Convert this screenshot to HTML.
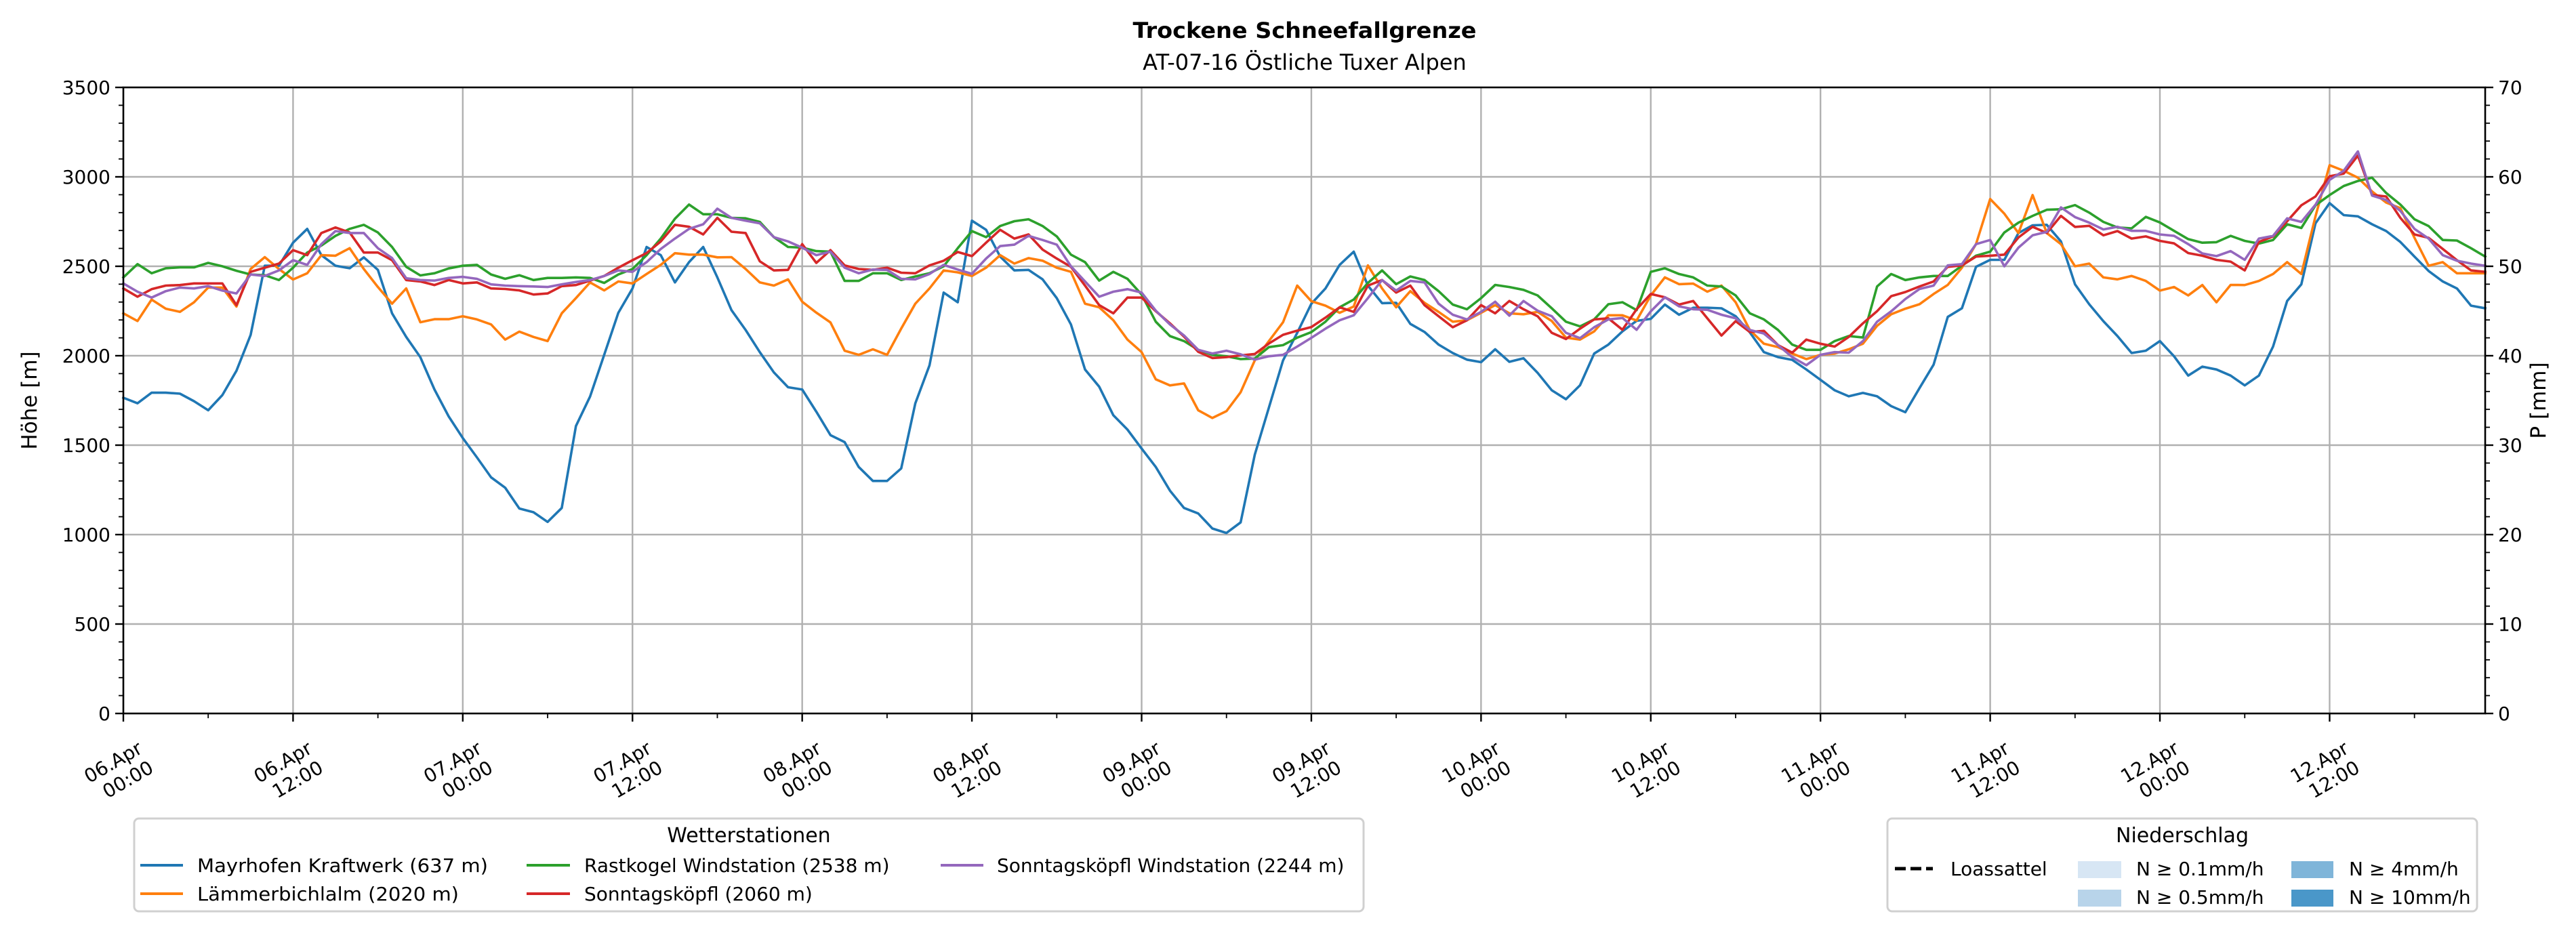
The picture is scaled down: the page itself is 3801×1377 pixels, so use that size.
<!DOCTYPE html>
<html><head><meta charset="utf-8">
<style>
html,body{margin:0;padding:0;background:#fff;}
svg{display:block;font-family:"DejaVu Sans","Liberation Sans",sans-serif;}
</style></head>
<body>
<svg id="chart" width="3801" height="1377" viewBox="0 0 3801 1377" xmlns="http://www.w3.org/2000/svg">
<text x="1925" y="56" text-anchor="middle" font-size="32" font-weight="bold" textLength="507" lengthAdjust="spacingAndGlyphs">Trockene Schneefallgrenze</text>
<text x="1925" y="103" text-anchor="middle" font-size="32">AT-07-16 Östliche Tuxer Alpen</text>
<g id="grid"></g>
<g id="series"></g>
<g id="axes"></g>
<text transform="translate(54,591) rotate(-90)" text-anchor="middle" font-size="31">Höhe [m]</text>
<text transform="translate(3756,591) rotate(-90)" text-anchor="middle" font-size="31">P [mm]</text>

<g>
<rect x="198" y="1208" width="1814" height="137" rx="7" fill="#fff" stroke="#d0d0d0" stroke-width="3"/>
<text x="1105" y="1243" text-anchor="middle" font-size="30">Wetterstationen</text>
<g><line x1="207" y1="1277" x2="270" y2="1277" stroke="#1f77b4" stroke-width="4"/><text x="291" y="1287" font-size="28" textLength="429" lengthAdjust="spacingAndGlyphs">Mayrhofen Kraftwerk (637 m)</text></g>
<g><line x1="207" y1="1319" x2="270" y2="1319" stroke="#ff7f0e" stroke-width="4"/><text x="291" y="1329" font-size="28" textLength="386" lengthAdjust="spacingAndGlyphs">Lämmerbichlalm (2020 m)</text></g>
<g><line x1="777" y1="1277" x2="841" y2="1277" stroke="#2ca02c" stroke-width="4"/><text x="862" y="1287" font-size="28">Rastkogel Windstation (2538 m)</text></g>
<g><line x1="777" y1="1319" x2="841" y2="1319" stroke="#d62728" stroke-width="4"/><text x="862" y="1329" font-size="28">Sonntagsköpfl (2060 m)</text></g>
<g><line x1="1388" y1="1277" x2="1451" y2="1277" stroke="#9467bd" stroke-width="4"/><text x="1471" y="1287" font-size="28">Sonntagsköpfl Windstation (2244 m)</text></g>
</g>

<g>
<rect x="2785" y="1208" width="870" height="137" rx="7" fill="#fff" stroke="#d0d0d0" stroke-width="3"/>
<text x="3220" y="1243" text-anchor="middle" font-size="30">Niederschlag</text>
<g><line x1="2796" y1="1282" x2="2852" y2="1282" stroke="#000" stroke-width="5" stroke-dasharray="16,7"/><text x="2878" y="1292" font-size="28">Loassattel</text></g>
<g><rect x="3066" y="1271" width="64" height="25" fill="#d7e6f4"/><text x="3152" y="1292" font-size="28">N ≥ 0.1mm/h</text></g>
<g><rect x="3066" y="1313" width="64" height="25" fill="#b8d4ea"/><text x="3152" y="1334" font-size="28">N ≥ 0.5mm/h</text></g>
<g><rect x="3381" y="1271" width="62" height="25" fill="#7fb5d9"/><text x="3466" y="1292" font-size="28">N ≥ 4mm/h</text></g>
<g><rect x="3381" y="1313" width="62" height="25" fill="#4a97c9"/><text x="3466" y="1334" font-size="28">N ≥ 10mm/h</text></g>
</g>
</svg>
<script>
const hours = Array.from({length:168},(_,i)=>i);
const xTickLabels = ["06.Apr|00:00","06.Apr|12:00","07.Apr|00:00","07.Apr|12:00","08.Apr|00:00","08.Apr|12:00","09.Apr|00:00","09.Apr|12:00","10.Apr|00:00","10.Apr|12:00","11.Apr|00:00","11.Apr|12:00","12.Apr|00:00","12.Apr|12:00"];
const yTicks = [0,500,1000,1500,2000,2500,3000,3500];
const y2Ticks = [0,10,20,30,40,50,60,70];
const seriesNames = ["Mayrhofen Kraftwerk","Lämmerbichlalm","Rastkogel Windstation","Sonntagsköpfl","Sonntagsköpfl Windstation"];
const mayrhofen = [1765,1734,1793,1793,1788,1746,1695,1780,1916,2116,2503,2503,2632,2709,2562,2503,2489,2550,2480,2237,2105,1992,1811,1661,1540,1432,1320,1262,1146,1125,1071,1149,1607,1772,2005,2240,2376,2608,2562,2410,2523,2608,2438,
2255,2144,2020,1907,1824,1811,1687,1556,1517,1378,1300,1300,1370,1734,1946,2353,2299,2755,2704,2554,2477,2480,2427,2322,2175,1923,1827,1667,1587,1481,1378,1246,1149,1118,1034,1009,1068,1447,1710,1974,2128,
2290,
2376,2508,2582,2392,2294,2296,2178,2133,2062,2015,1978,1964,2036,1966,1986,1904,1807,1757,1835,2012,2062,2136,2195,2206,2286,2229,2268,2268,2265,2221,2131,2020,1992,1977,1923,1865,1807,1773,1792,1773,1718,1684,
1819,1950,2217,2265,2497,2536,2536,2686,2729,2732,2639,2399,2288,2193,2110,2015,2028,2082,1997,1889,1939,1923,1889,1834,1889,2051,2306,2399,2740,2853,2786,2779,2735,2697,2636,2554,2474,2415,2376,2280,2265];
const laemmerbichlalm = [2237,2194,2314,2263,2245,2299,2381,2381,2275,2485,2551,2485,2426,2461,2562,2559,2601,2485,2384,2291,2376,2187,2204,2204,2221,2203,2175,2090,2135,2105,2082,2237,2322,2410,2365,2415,2404,2457,2508,2573,2565,2565,2550,
2551,2485,2410,2392,2427,2302,2241,2186,2028,2005,2036,2005,2152,2291,2376,2477,2466,2446,2492,2562,2515,2546,2531,2492,2469,2291,2271,2198,2090,2020,1868,1834,1845,1695,1652,1690,1796,1974,2082,2187,2392,
2305,
2280,2240,2275,2505,2376,2271,2361,2296,2245,2190,2198,2240,2283,2237,2232,2245,2194,2101,2090,2136,2226,2226,2197,2337,2438,2400,2403,2358,2392,2299,2144,2067,2048,2012,1981,2005,2012,2036,2067,2167,2232,2263,
2288,2345,2396,2492,2624,2876,2794,2686,2898,2686,2624,2500,2515,2438,2427,2446,2418,2364,2384,2337,2395,2299,2396,2395,2418,2457,2523,2457,2779,3065,3034,2995,2918,2856,2825,2659,2503,2523,2461,2461,2461];
const rastkogel = [2438,2512,2461,2489,2494,2494,2519,2500,2475,2454,2450,2423,2492,2577,2616,2670,2709,2732,2689,2608,2497,2449,2461,2488,2503,2508,2454,2430,2450,2423,2435,2435,2438,2435,2407,2454,2485,2562,2655,2766,2845,2791,2791,
2771,2768,2748,2663,2608,2604,2585,2582,2418,2418,2461,2461,2423,2443,2461,2500,2601,2697,2663,2725,2752,2763,2725,2667,2565,2523,2420,2469,2430,2342,2190,2110,2082,2033,2005,1997,1981,1984,2048,2059,2101,
2132,
2190,2271,2314,2407,2477,2400,2443,2423,2361,2286,2260,2322,2396,2384,2368,2337,2265,2190,2164,2203,2288,2299,2255,2469,2489,2457,2438,2392,2387,2337,2237,2203,2144,2062,2033,2033,2082,2110,2102,2387,2457,2423,
2438,2446,2446,2503,2559,2582,2689,2744,2782,2816,2819,2842,2800,2748,2717,2712,2776,2745,2698,2652,2632,2635,2670,2642,2627,2647,2735,2714,2841,2898,2949,2977,2995,2910,2845,2763,2725,2647,2644,2601,2554];
const sonntagskoepfl = [2376,2330,2372,2392,2395,2404,2404,2404,2283,2469,2492,2515,2590,2562,2686,2717,2689,2577,2577,2534,2423,2415,2395,2423,2404,2410,2376,2373,2365,2342,2348,2389,2395,2420,2446,2492,2534,2574,2639,2732,2721,2678,2771,
2693,2686,2528,2477,2480,2624,2519,2590,2505,2485,2480,2492,2464,2461,2505,2531,2580,2557,2632,2704,2655,2678,2593,2543,2497,2392,2283,2237,2325,2325,2249,2181,2107,2022,1987,1992,2002,2010,2068,2117,2140,
2160,
2213,2271,2245,2392,2423,2353,2392,2283,2221,2159,2198,2283,2237,2306,2260,2221,2128,2093,2151,2203,2209,2145,2260,2345,2327,2286,2306,2209,2113,2193,2133,2139,2059,2017,2090,2067,2051,2105,2181,2249,2333,2356,
2387,2415,2497,2505,2554,2559,2565,2661,2721,2686,2782,2720,2726,2673,2697,2655,2667,2642,2628,2574,2559,2536,2526,2477,2636,2667,2752,2841,2890,3003,3018,3119,2899,2890,2771,2678,2659,2597,2534,2477,2469];
const sonntagskoepflWind = [2404,2358,2325,2361,2381,2376,2389,2364,2348,2454,2446,2477,2534,2508,2624,2697,2686,2686,2601,2546,2433,2423,2420,2435,2441,2430,2399,2392,2389,2387,2384,2399,2412,2423,2446,2477,2469,2523,2597,2655,2709,2735,2822,
2771,2755,2740,2663,2639,2604,2562,2582,2492,2461,2482,2480,2430,2427,2457,2508,2482,2458,2543,2613,2621,2670,2647,2621,2500,2415,2330,2358,2372,2353,2252,2175,2113,2033,2012,2028,2008,1978,1997,2005,2051,
2100,
2151,2198,2226,2322,2423,2364,2418,2410,2291,2229,2203,2245,2302,2224,2306,2252,2221,2128,2098,2159,2203,2211,2145,2248,2327,2276,2260,2257,2229,2209,2144,2124,2059,1992,1947,2005,2020,2017,2082,2190,2248,2317,
2373,2392,2505,2512,2624,2647,2500,2604,2673,2692,2829,2775,2744,2706,2721,2698,2698,2678,2670,2624,2572,2557,2585,2536,2655,2670,2768,2748,2844,2983,3034,3142,2895,2871,2810,2709,2655,2562,2531,2515,2503];

const NS='http://www.w3.org/2000/svg';
const L=182,R=3667,T=129,B=1053;
const xMax=167,yMax=3500,y2Max=70;
function xs(h){return L+(h/xMax)*(R-L);}
function ys(v){return B-(v/yMax)*(B-T);}
function ys2(v){return B-(v/y2Max)*(B-T);}
function mk(tag,attrs,parent){const e=document.createElementNS(NS,tag);for(const k in attrs)e.setAttribute(k,attrs[k]);parent.appendChild(e);return e;}
const grid=document.getElementById('grid');
const axes=document.getElementById('axes');
const ser=document.getElementById('series');
yTicks.forEach((v,i)=>{
  const y=ys(v);
  if(v>0&&v<yMax){const g=mk('line',{x1:L,x2:R,y1:y,y2:y,stroke:'#b0b0b0','stroke-width':2.4},grid);
  
  }
  const t=mk('line',{x1:L-12,x2:L,y1:y,y2:y,stroke:'#000','stroke-width':2.4},axes);
  
  
  const lb=mk('text',{x:L-19,y:y+10,'text-anchor':'end','font-size':28},axes);
  lb.textContent=v;
  
  
  const t2=mk('line',{x1:R,x2:R+12,y1:y,y2:y,stroke:'#000','stroke-width':2.4},axes);
  
  
  const lb2=mk('text',{x:R+19,y:ys2(y2Ticks[i])+10,'font-size':28},axes);
  lb2.textContent=y2Ticks[i];
  
  
});
for(let v=100;v<yMax;v+=100){if(v%500===0)continue;const y=ys(v);
  mk('line',{x1:L-7,x2:L,y1:y,y2:y,stroke:'#000','stroke-width':1.8},axes);
  mk('line',{x1:R,x2:R+7,y1:y,y2:y,stroke:'#000','stroke-width':1.8},axes);}
xTickLabels.forEach((lab,i)=>{
  const h=i*12,x=xs(h);
  if(h>0){const g=mk('line',{x1:x,x2:x,y1:T,y2:B,stroke:'#b0b0b0','stroke-width':2.4},grid);
  
  }
  const t=mk('line',{x1:x,x2:x,y1:B,y2:B+12,stroke:'#000','stroke-width':2.4},axes);
  
  
  const g=mk('g',{transform:`translate(${x+30},${1110}) rotate(-30)`,'font-size':28,'text-anchor':'end'},axes);
  
  
  const [a,b]=lab.split('|');
  mk('text',{x:0,y:0},g).textContent=a;
  mk('text',{x:0,y:33},g).textContent=b;
});
for(let h=6;h<=xMax;h+=12){const x=xs(h);mk('line',{x1:x,x2:x,y1:B,y2:B+7,stroke:'#000','stroke-width':1.8},axes);}
const allSeries=[mayrhofen,laemmerbichlalm,rastkogel,sonntagskoepfl,sonntagskoepflWind];
const colors=['#1f77b4','#ff7f0e','#2ca02c','#d62728','#9467bd'];
const names=['series-mayrhofen','series-laemmerbichlalm','series-rastkogel','series-sonntagskoepfl','series-sonntagskoepfl-wind'];
allSeries.forEach((arr,si)=>{
  const pts=arr.map((v,i)=>xs(hours[i]).toFixed(1)+','+ys(v).toFixed(1)).join(' ');
  const p=mk('polyline',{points:pts,fill:'none',stroke:colors[si],'stroke-width':3.6,'stroke-linejoin':'round','stroke-linecap':'square'},ser);
  
  
});
const fr=mk('rect',{x:L,y:T,width:R-L,height:B-T,fill:'none',stroke:'#000','stroke-width':2.6},axes);


</script>
</body></html>
